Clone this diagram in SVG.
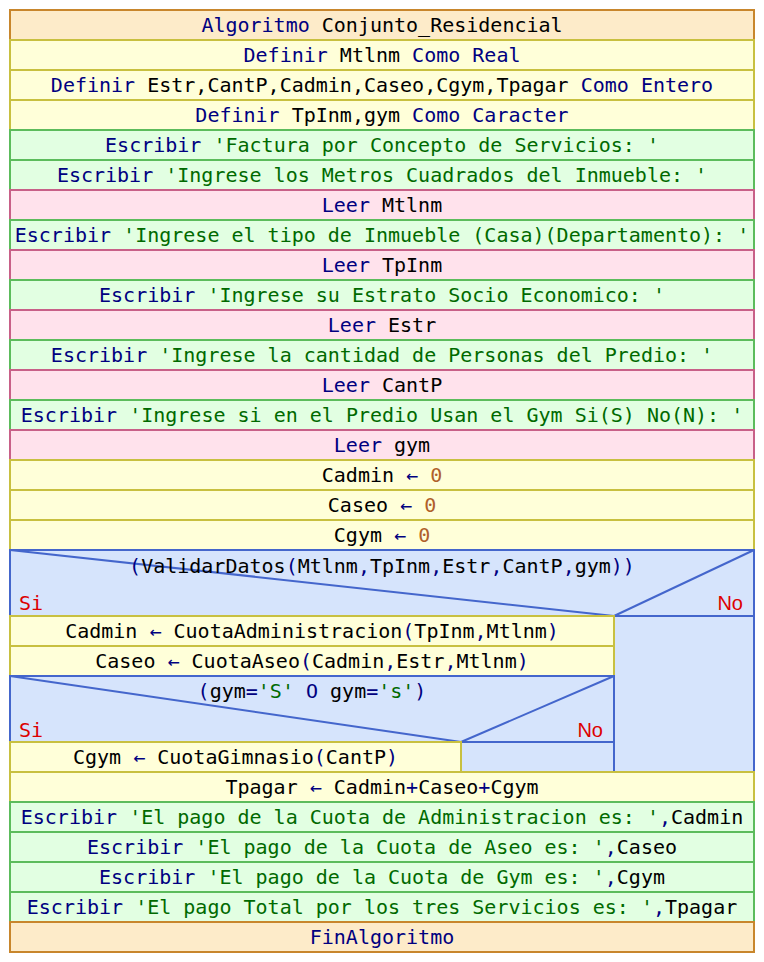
<svg xmlns="http://www.w3.org/2000/svg" width="764" height="962" viewBox="0 0 764 962">
<style>
text{font-family:"DejaVu Sans Mono","Liberation Mono",monospace;font-size:20px;white-space:pre;fill:#000}
.c{text-anchor:middle}
.k{fill:#000080}
.s{fill:#006a00}
.n{fill:#b0602a}
.r{fill:#dd0000}
.e{text-anchor:end;font-family:"Liberation Sans",Arial,sans-serif}
rect,line{stroke-width:2}
.o{fill:#fdebc9;stroke:#c8862c}
.y{fill:#ffffd9;stroke:#c8c040}
.g{fill:#e2ffe2;stroke:#5cbc5c}
.p{fill:#ffe2ec;stroke:#c86088}
.b{fill:#d6e4fc;stroke:#4466cc}
.bl{stroke:#4466cc}
</style>
<rect width="764" height="962" fill="#fff"/>
<g id="n0"><rect class="o" x="10" y="10" width="744" height="30"/><text class="c" x="382" y="32"><tspan class="k">Algoritmo</tspan> Conjunto_Residencial</text></g>
<g id="n1"><rect class="y" x="10" y="40" width="744" height="30"/><text class="c" x="382" y="62"><tspan class="k">Definir</tspan> Mtlnm <tspan class="k">Como Real</tspan></text></g>
<g id="n2"><rect class="y" x="10" y="70" width="744" height="30"/><text class="c" x="382" y="92"><tspan class="k">Definir</tspan> Estr,CantP,Cadmin,Caseo,Cgym,Tpagar <tspan class="k">Como Entero</tspan></text></g>
<g id="n3"><rect class="y" x="10" y="100" width="744" height="30"/><text class="c" x="382" y="122"><tspan class="k">Definir</tspan> TpInm,gym <tspan class="k">Como Caracter</tspan></text></g>
<g id="n4"><rect class="g" x="10" y="130" width="744" height="30"/><text class="c" x="382" y="152"><tspan class="k">Escribir</tspan> <tspan class="s">'Factura por Concepto de Servicios: '</tspan></text></g>
<g id="n5"><rect class="g" x="10" y="160" width="744" height="30"/><text class="c" x="382" y="182"><tspan class="k">Escribir</tspan> <tspan class="s">'Ingrese los Metros Cuadrados del Inmueble: '</tspan></text></g>
<g id="n6"><rect class="p" x="10" y="190" width="744" height="30"/><text class="c" x="382" y="212"><tspan class="k">Leer</tspan> Mtlnm</text></g>
<g id="n7"><rect class="g" x="10" y="220" width="744" height="30"/><text class="c" x="382" y="242"><tspan class="k">Escribir</tspan> <tspan class="s">'Ingrese el tipo de Inmueble (Casa)(Departamento): '</tspan></text></g>
<g id="n8"><rect class="p" x="10" y="250" width="744" height="30"/><text class="c" x="382" y="272"><tspan class="k">Leer</tspan> TpInm</text></g>
<g id="n9"><rect class="g" x="10" y="280" width="744" height="30"/><text class="c" x="382" y="302"><tspan class="k">Escribir</tspan> <tspan class="s">'Ingrese su Estrato Socio Economico: '</tspan></text></g>
<g id="n10"><rect class="p" x="10" y="310" width="744" height="30"/><text class="c" x="382" y="332"><tspan class="k">Leer</tspan> Estr</text></g>
<g id="n11"><rect class="g" x="10" y="340" width="744" height="30"/><text class="c" x="382" y="362"><tspan class="k">Escribir</tspan> <tspan class="s">'Ingrese la cantidad de Personas del Predio: '</tspan></text></g>
<g id="n12"><rect class="p" x="10" y="370" width="744" height="30"/><text class="c" x="382" y="392"><tspan class="k">Leer</tspan> CantP</text></g>
<g id="n13"><rect class="g" x="10" y="400" width="744" height="30"/><text class="c" x="382" y="422"><tspan class="k">Escribir</tspan> <tspan class="s">'Ingrese si en el Predio Usan el Gym Si(S) No(N): '</tspan></text></g>
<g id="n14"><rect class="p" x="10" y="430" width="744" height="30"/><text class="c" x="382" y="452"><tspan class="k">Leer</tspan> gym</text></g>
<g id="n15"><rect class="y" x="10" y="460" width="744" height="30"/><text class="c" x="382" y="482">Cadmin <tspan class="k">←</tspan> <tspan class="n">0</tspan></text></g>
<g id="n16"><rect class="y" x="10" y="490" width="744" height="30"/><text class="c" x="382" y="512">Caseo <tspan class="k">←</tspan> <tspan class="n">0</tspan></text></g>
<g id="n17"><rect class="y" x="10" y="520" width="744" height="30"/><text class="c" x="382" y="542">Cgym <tspan class="k">←</tspan> <tspan class="n">0</tspan></text></g>
<g id="if1">
<rect class="b" x="10" y="550" width="744" height="222"/>
<rect class="b" x="10" y="550" width="744" height="66"/>
<line class="bl" x1="10" y1="550" x2="614" y2="616"/>
<line class="bl" x1="614" y1="616" x2="754" y2="550"/>
<text class="c" x="382" y="573"><tspan class="k">(</tspan>ValidarDatos<tspan class="k">(</tspan>Mtlnm<tspan class="k">,</tspan>TpInm<tspan class="k">,</tspan>Estr<tspan class="k">,</tspan>CantP<tspan class="k">,</tspan>gym<tspan class="k">))</tspan></text>
<text class="r" x="19" y="610">Si</text>
<text class="r e" x="743" y="610">No</text>
<rect class="b" x="614" y="616" width="140" height="156"/>
</g>
<g id="n18"><rect class="y" x="10" y="616" width="604" height="30"/><text class="c" x="312" y="638">Cadmin <tspan class="k">←</tspan> CuotaAdministracion<tspan class="k">(</tspan>TpInm<tspan class="k">,</tspan>Mtlnm<tspan class="k">)</tspan></text></g>
<g id="n19"><rect class="y" x="10" y="646" width="604" height="30"/><text class="c" x="312" y="668">Caseo <tspan class="k">←</tspan> CuotaAseo<tspan class="k">(</tspan>Cadmin<tspan class="k">,</tspan>Estr<tspan class="k">,</tspan>Mtlnm<tspan class="k">)</tspan></text></g>
<g id="if2">
<rect class="b" x="10" y="676" width="604" height="66"/>
<line class="bl" x1="10" y1="676" x2="461" y2="742"/>
<line class="bl" x1="461" y1="742" x2="614" y2="676"/>
<text class="c" x="312" y="698"><tspan class="k">(</tspan>gym<tspan class="k">=</tspan><tspan class="s">'S'</tspan> <tspan class="k">O</tspan> gym<tspan class="k">=</tspan><tspan class="s">'s'</tspan><tspan class="k">)</tspan></text>
<text class="r" x="19" y="737">Si</text>
<text class="r e" x="603" y="737">No</text>
<rect class="b" x="461" y="742" width="153" height="30"/>
</g>
<g id="n20"><rect class="y" x="10" y="742" width="451" height="30"/><text class="c" x="235.5" y="764">Cgym <tspan class="k">←</tspan> CuotaGimnasio<tspan class="k">(</tspan>CantP<tspan class="k">)</tspan></text></g>
<g id="n21"><rect class="y" x="10" y="772" width="744" height="30"/><text class="c" x="382" y="794">Tpagar <tspan class="k">←</tspan> Cadmin<tspan class="k">+</tspan>Caseo<tspan class="k">+</tspan>Cgym</text></g>
<g id="n22"><rect class="g" x="10" y="802" width="744" height="30"/><text class="c" x="382" y="824"><tspan class="k">Escribir</tspan> <tspan class="s">'El pago de la Cuota de Administracion es: '</tspan><tspan class="k">,</tspan>Cadmin</text></g>
<g id="n23"><rect class="g" x="10" y="832" width="744" height="30"/><text class="c" x="382" y="854"><tspan class="k">Escribir</tspan> <tspan class="s">'El pago de la Cuota de Aseo es: '</tspan><tspan class="k">,</tspan>Caseo</text></g>
<g id="n24"><rect class="g" x="10" y="862" width="744" height="30"/><text class="c" x="382" y="884"><tspan class="k">Escribir</tspan> <tspan class="s">'El pago de la Cuota de Gym es: '</tspan><tspan class="k">,</tspan>Cgym</text></g>
<g id="n25"><rect class="g" x="10" y="892" width="744" height="30"/><text class="c" x="382" y="914"><tspan class="k">Escribir</tspan> <tspan class="s">'El pago Total por los tres Servicios es: '</tspan><tspan class="k">,</tspan>Tpagar</text></g>
<g id="n26"><rect class="o" x="10" y="922" width="744" height="30"/><text class="c" x="382" y="944"><tspan class="k">FinAlgoritmo</tspan></text></g>
<g id="connectors"></g>
</svg>
